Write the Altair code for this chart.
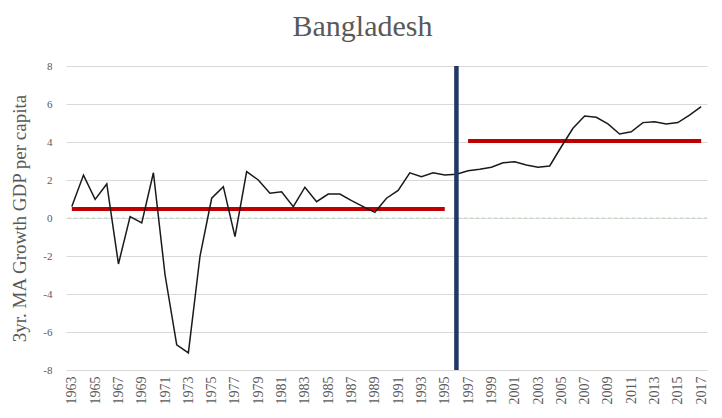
import altair as alt
import pandas as pd

years = list(range(1963, 2018))
growth = [0.6, 2.26, 0.98, 1.79, -2.42, 0.07, -0.26, 2.38, -3.0, -6.68, -7.1, -2.0,
          1.04, 1.65, -0.98, 2.44, 2.0, 1.3, 1.38, 0.6, 1.62, 0.86, 1.26, 1.26, 0.91,
          0.6, 0.3, 1.04, 1.45, 2.38, 2.17, 2.38, 2.26, 2.3, 2.49, 2.56, 2.67, 2.91,
          2.96, 2.79, 2.67, 2.74, 3.75, 4.72, 5.37, 5.3, 4.95, 4.42, 4.54, 5.02, 5.07,
          4.95, 5.02, 5.42, 5.86]

seg_start = [1963, 1997]
seg_end = [1995, 2017]
seg_mean = [0.47, 4.05]
break_year = [1996]

x_ticks = list(range(1963, 2018, 2))
y_ticks = [-8, -6, -4, -2, 0, 2, 4, 6, 8]

df = pd.DataFrame({"year": years, "growth": growth})
seg = pd.DataFrame({"start": seg_start, "end": seg_end, "mean": seg_mean})
brk = pd.DataFrame({"year": break_year})
zero = pd.DataFrame({"y": [0]})

FONT = "Liberation Serif"
TXT = "#595959"

xscale = alt.Scale(domain=[1962.5, 2017.5], nice=False, zero=False)
yscale = alt.Scale(domain=[-8, 8], nice=False)

base_x_axis = alt.Axis(values=x_ticks, tickCount=len(x_ticks) + 2, format="d",
                       labelAngle=-90, grid=False,
                       domain=False, ticks=False, labelPadding=6, title=None,
                       labelOverlap=False, labelFlush=False, labelBound=False,
                       labelFont=FONT, labelFontSize=14, labelColor=TXT)
base_y_axis = alt.Axis(values=y_ticks, tickCount=len(y_ticks) + 2, grid=True,
                       gridColor="#D9D9D9", domain=False,
                       ticks=False, labelPadding=14, labelFont=FONT, labelFontSize=11,
                       labelOverlap=False, labelFlush=False, labelBound=False,
                       labelColor=TXT, labelExpr="'' + datum.value",
                       title="3yr. MA Growth GDP per capita", titleFont=FONT,
                       titleFontSize=19, titleFontWeight="normal", titleColor=TXT,
                       titleAngle=270, titleX=-47, titleY=152, titleAlign="center",
                       titleBaseline="middle")

line = alt.Chart(df).mark_line(color="#1a1a1a", strokeWidth=1.5).encode(
    x=alt.X("year:Q", scale=xscale, axis=base_x_axis),
    y=alt.Y("growth:Q", scale=yscale, axis=base_y_axis),
)

zero_rule = alt.Chart(zero).mark_rule(color="#b9dcb9", strokeWidth=1, strokeDash=[3, 3]).encode(
    y=alt.Y("y:Q", scale=yscale),
)

red = alt.Chart(seg).mark_rule(color="#C00000", strokeWidth=4).encode(
    x=alt.X("start:Q", scale=xscale),
    x2="end:Q",
    y=alt.Y("mean:Q", scale=yscale),
)

blue = alt.Chart(brk).mark_rule(color="#203864", strokeWidth=4.5).encode(
    x=alt.X("year:Q", scale=xscale),
)

chart = alt.layer(zero_rule, red, line, blue).properties(
    width=641,
    height=304,
    autosize=alt.AutoSizeParams(type="none"),
    padding={"left": 58, "top": 58, "right": 7, "bottom": 40},
    title=alt.TitleParams("Bangladesh", font=FONT, fontSize=30, fontWeight="normal",
                          color=TXT, anchor="middle", dx=-24, offset=18),
).configure_view(stroke=None)

chart.save("out.html", embed_options={"renderer": "svg", "actions": False})
